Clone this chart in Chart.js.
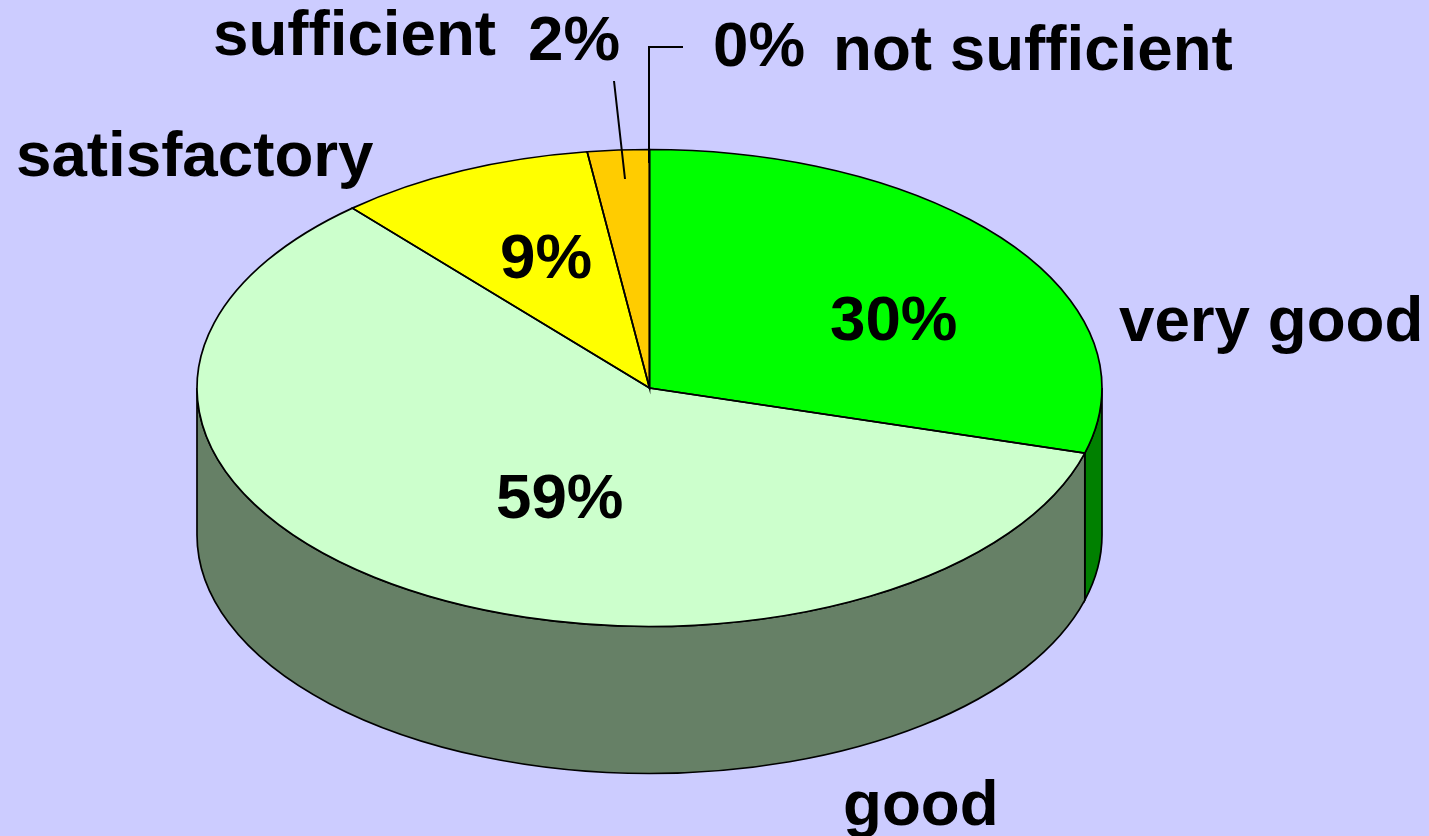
<!DOCTYPE html>
<html>
<head>
<meta charset="utf-8">
<title>Rating</title>
<script src="https://cdn.jsdelivr.net/npm/chart.js@4"></script>
<style>
    html, body { margin: 0; padding: 0; background: #CCCCFF; overflow: hidden; }
    canvas { display: block; }
</style>
</head>
<body>
<canvas id="ratingChart" width="1429" height="836"></canvas>
<script>
// Chart data
const categories = ['very good', 'good', 'satisfactory', 'sufficient', 'not sufficient'];
const shares = [29.4, 59.2, 9.2, 2.2, 0];
const shareLabels = ['30%', '59%', '9%', '2%', '0%'];

// Slice styles
const topColors = ['#00FF00', '#CCFFCC', '#FFFF00', '#FFCC00', '#FF9900'];
const sideColors = ['#008000', '#668066', '#808000', '#806600', '#804D00'];

// Fake 3D geometry, the library's pie gets squashed onto this ellipse
const centerX = 649.5;
const centerY = 388;
const radiusX = 452.5;
const radiusY = 238.5;
const depth = 147;

// Text placement, same order as categories
const namePlaces = [[1119, 341], [843, 825], [16, 176], [213, 55], [833, 70]];
const sharePlaces = [[830, 340], [496, 518], [500, 278], [528, 60], [713, 66]];

function sliceAngles(chart) {
    return chart.getDatasetMeta(0).data.map(arc =>
        arc.getProps(['startAngle', 'endAngle', 'outerRadius', 'x', 'y'], true));
}

const pie3d = {
    id: 'pie3d',
    beforeDatasetsDraw(chart) {
        const ctx = chart.ctx;
        const slices = sliceAngles(chart);

        // side wall, only the part of each slice facing the viewer
        ctx.save();
        ctx.lineWidth = 1.7;
        ctx.strokeStyle = '#000000';
        slices.forEach((s, i) => {
            const from = Math.max(s.startAngle, 0);
            const to = Math.min(s.endAngle, Math.PI);
            if (to <= from) return;
            ctx.beginPath();
            ctx.ellipse(centerX, centerY, radiusX, radiusY, 0, from, to);
            ctx.ellipse(centerX, centerY + depth, radiusX, radiusY, 0, to, from, true);
            ctx.closePath();
            ctx.fillStyle = sideColors[i];
            ctx.fill();
            ctx.stroke();
        });
        ctx.restore();

        // squash what the library draws next
        const s = slices[0];
        ctx.save();
        ctx.translate(centerX, centerY);
        ctx.scale(radiusX / s.outerRadius, radiusY / s.outerRadius);
        ctx.translate(-s.x, -s.y);
    },
    afterDatasetsDraw(chart) {
        const ctx = chart.ctx;
        ctx.restore();

        // outlines go here so the stroke stays even all round
        ctx.save();
        ctx.lineWidth = 1.7;
        ctx.strokeStyle = '#000000';
        sliceAngles(chart).forEach(s => {
            if (s.endAngle - s.startAngle <= 0) return;
            ctx.beginPath();
            ctx.moveTo(centerX, centerY);
            ctx.ellipse(centerX, centerY, radiusX, radiusY, 0, s.startAngle, s.endAngle);
            ctx.closePath();
            ctx.stroke();
        });

        // leader lines for the two small slices
        ctx.lineWidth = 2;
        ctx.beginPath();
        ctx.moveTo(614, 81);
        ctx.lineTo(625, 179);
        ctx.moveTo(683, 47);
        ctx.lineTo(649, 47);
        ctx.lineTo(649, 163);
        ctx.stroke();

        // labels
        ctx.fillStyle = '#000000';
        ctx.font = 'bold 63.7px "Liberation Sans", Arial, sans-serif';
        ctx.textBaseline = 'alphabetic';
        ctx.textAlign = 'left';
        categories.forEach((name, i) => {
            ctx.fillText(name, namePlaces[i][0], namePlaces[i][1]);
            ctx.fillText(shareLabels[i], sharePlaces[i][0], sharePlaces[i][1]);
        });
        ctx.restore();
    }
};

new Chart(document.getElementById('ratingChart').getContext('2d'), {
    type: 'pie',
    data: {
        labels: categories,
        datasets: [{
            data: shares,
            backgroundColor: topColors,
            borderWidth: 0
        }]
    },
    options: {
        responsive: false,
        animation: false,
        plugins: {
            legend: { display: false },
            tooltip: { enabled: false }
        }
    },
    plugins: [pie3d]
});
</script>
</body>
</html>
